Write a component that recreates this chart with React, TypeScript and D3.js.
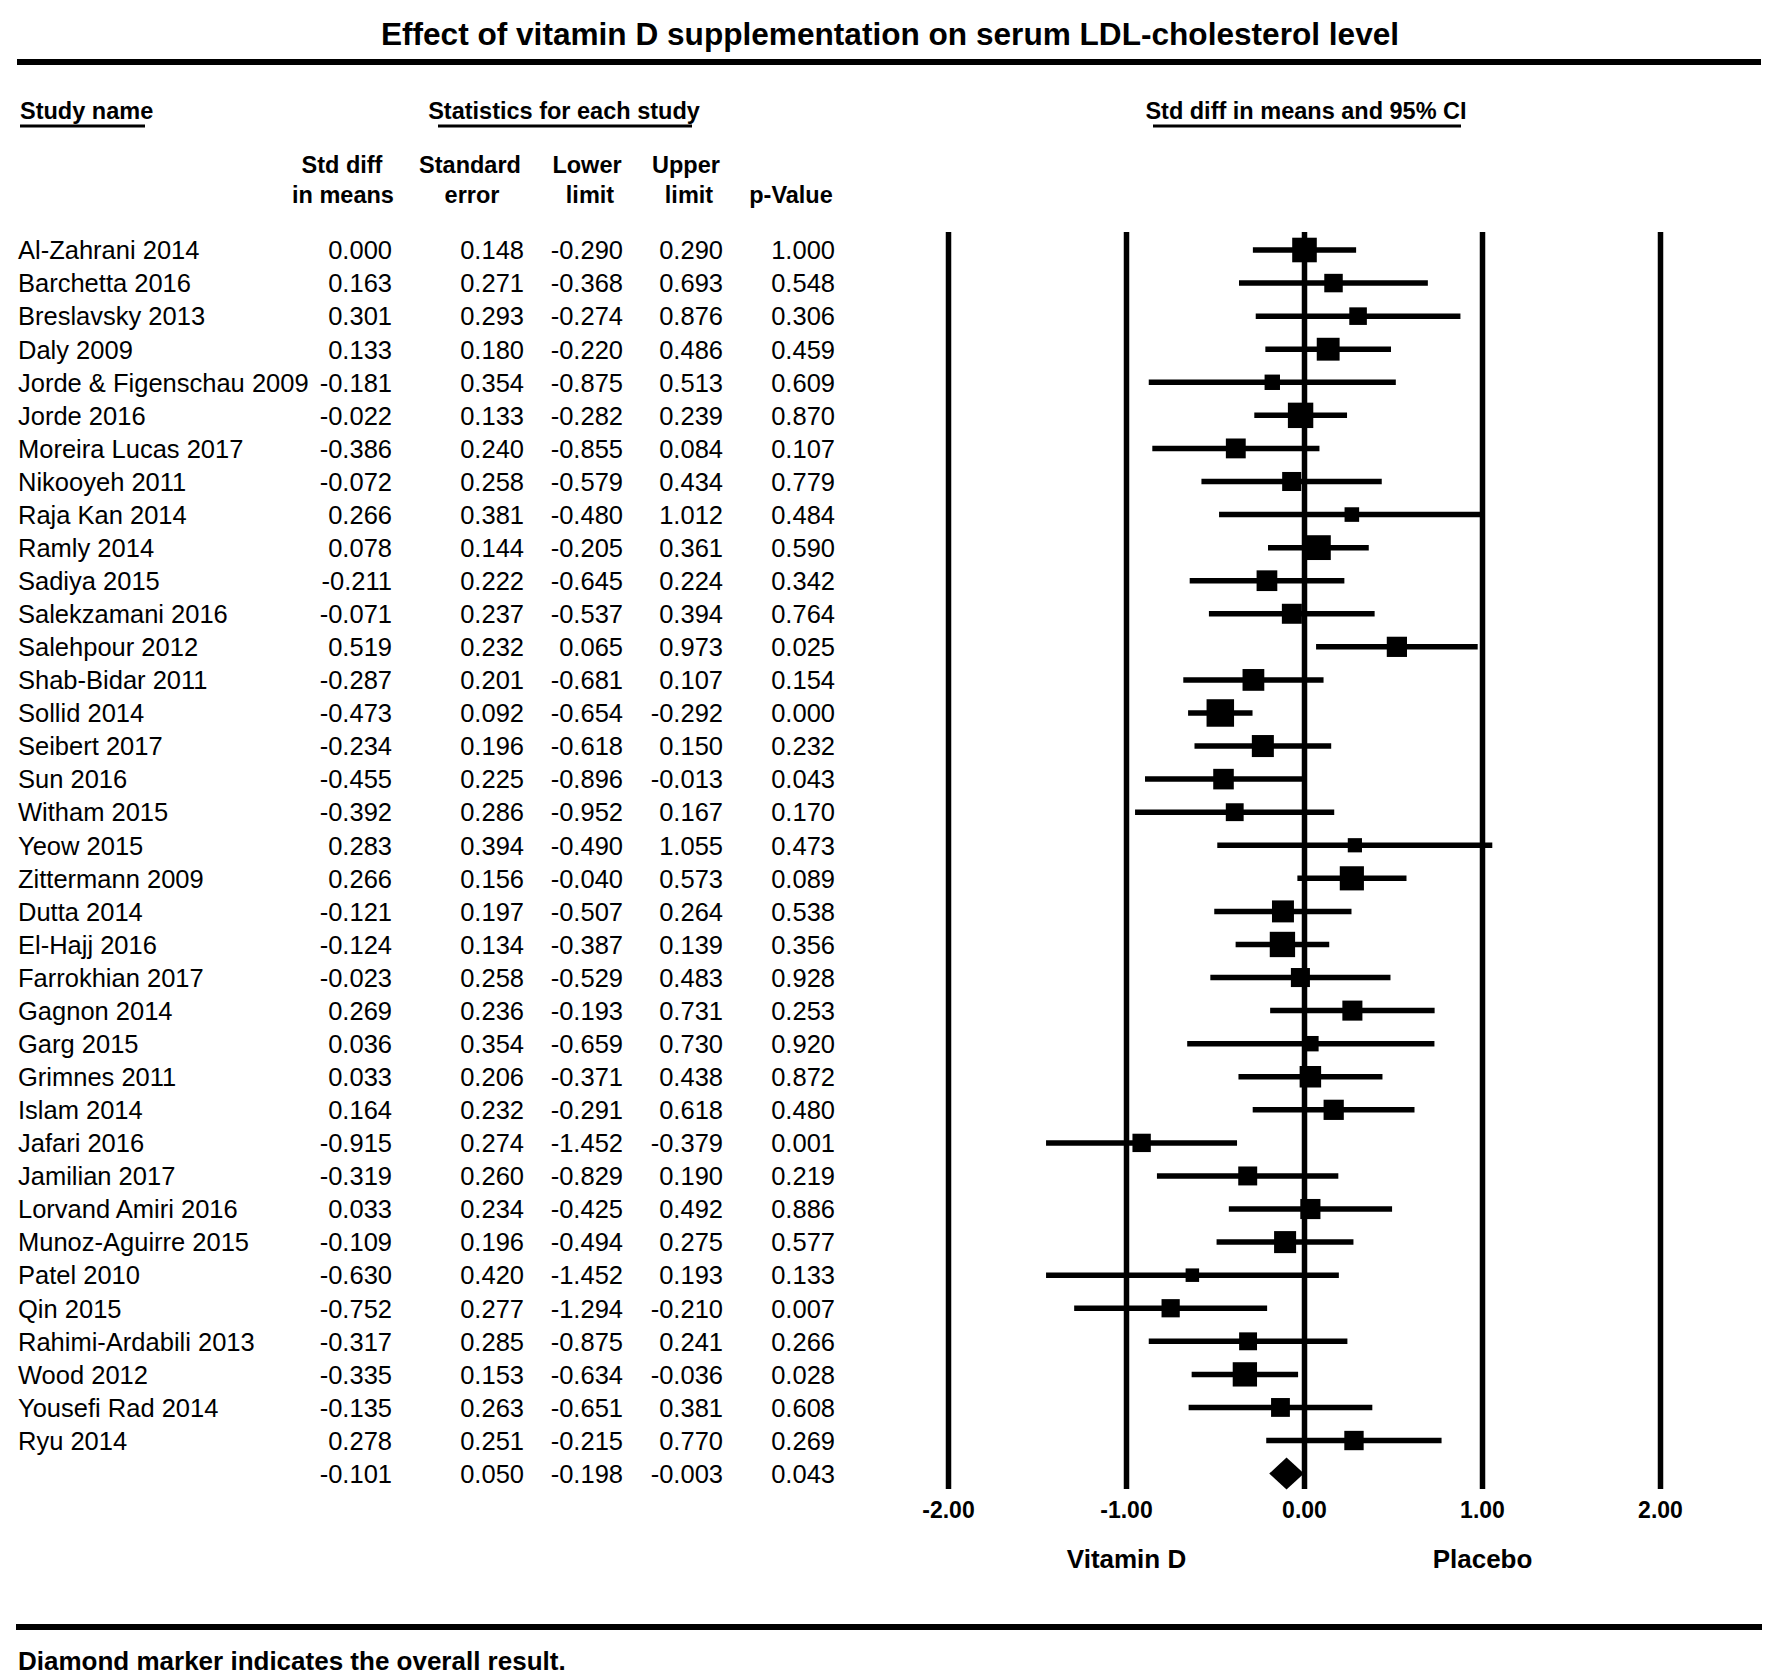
import React from 'react';
import * as d3 from 'd3';

// study rows, top to bottom
const studies = [
  'Al-Zahrani 2014', 'Barchetta 2016', 'Breslavsky 2013', 'Daly 2009', 'Jorde & Figenschau 2009',
  'Jorde 2016', 'Moreira Lucas 2017', 'Nikooyeh 2011', 'Raja Kan 2014', 'Ramly 2014',
  'Sadiya 2015', 'Salekzamani 2016', 'Salehpour 2012', 'Shab-Bidar 2011', 'Sollid 2014',
  'Seibert 2017', 'Sun 2016', 'Witham 2015', 'Yeow 2015', 'Zittermann 2009',
  'Dutta 2014', 'El-Hajj 2016', 'Farrokhian 2017', 'Gagnon 2014', 'Garg 2015',
  'Grimnes 2011', 'Islam 2014', 'Jafari 2016', 'Jamilian 2017', 'Lorvand Amiri 2016',
  'Munoz-Aguirre 2015', 'Patel 2010', 'Qin 2015', 'Rahimi-Ardabili 2013', 'Wood 2012',
  'Yousefi Rad 2014', 'Ryu 2014',
];

const stdDiff = [0.000, 0.163, 0.301, 0.133, -0.181, -0.022, -0.386, -0.072, 0.266, 0.078, -0.211, -0.071, 0.519, -0.287, -0.473, -0.234, -0.455, -0.392, 0.283, 0.266, -0.121, -0.124, -0.023, 0.269, 0.036, 0.033, 0.164, -0.915, -0.319, 0.033, -0.109, -0.630, -0.752, -0.317, -0.335, -0.135, 0.278];
const stdErr = [0.148, 0.271, 0.293, 0.180, 0.354, 0.133, 0.240, 0.258, 0.381, 0.144, 0.222, 0.237, 0.232, 0.201, 0.092, 0.196, 0.225, 0.286, 0.394, 0.156, 0.197, 0.134, 0.258, 0.236, 0.354, 0.206, 0.232, 0.274, 0.260, 0.234, 0.196, 0.420, 0.277, 0.285, 0.153, 0.263, 0.251];
const lowerLimit = [-0.290, -0.368, -0.274, -0.220, -0.875, -0.282, -0.855, -0.579, -0.480, -0.205, -0.645, -0.537, 0.065, -0.681, -0.654, -0.618, -0.896, -0.952, -0.490, -0.040, -0.507, -0.387, -0.529, -0.193, -0.659, -0.371, -0.291, -1.452, -0.829, -0.425, -0.494, -1.452, -1.294, -0.875, -0.634, -0.651, -0.215];
const upperLimit = [0.290, 0.693, 0.876, 0.486, 0.513, 0.239, 0.084, 0.434, 1.012, 0.361, 0.224, 0.394, 0.973, 0.107, -0.292, 0.150, -0.013, 0.167, 1.055, 0.573, 0.264, 0.139, 0.483, 0.731, 0.730, 0.438, 0.618, -0.379, 0.190, 0.492, 0.275, 0.193, -0.210, 0.241, -0.036, 0.381, 0.770];
const pValue = [1.000, 0.548, 0.306, 0.459, 0.609, 0.870, 0.107, 0.779, 0.484, 0.590, 0.342, 0.764, 0.025, 0.154, 0.000, 0.232, 0.043, 0.170, 0.473, 0.089, 0.538, 0.356, 0.928, 0.253, 0.920, 0.872, 0.480, 0.001, 0.219, 0.886, 0.577, 0.133, 0.007, 0.266, 0.028, 0.608, 0.269];

// overall (random effects) result
const overall = { est: -0.101, se: 0.050, lower: -0.198, upper: -0.003, p: 0.043 };

// between-study variance guess, used only for marker weights
const tau2 = 0.045;

const xTicks = [-2, -1, 0, 1, 2];

const FONT = '"Liberation Sans", Arial, Helvetica, sans-serif';

export default function App() {
  const W = 1772;
  const H = 1680;

  // x scale for the forest plot
  const x = d3.scaleLinear().domain([-2, 2]).range([948.5, 1660.5]);

  // row index -> y center (last index is the overall row)
  const y = d3.scaleLinear().domain([0, studies.length]).range([250, 250 + 33.07 * studies.length]);

  const weights = stdErr.map(se => 1 / (se * se + tau2));
  const size = d3.scaleSqrt().domain([0, d3.max(weights)]).range([0, 27.5]);

  const f3 = (v: number) => v.toFixed(3);

  // right edges of the numeric columns
  const cols = [
    { x: 392, vals: stdDiff, o: overall.est },
    { x: 524, vals: stdErr, o: overall.se },
    { x: 623, vals: lowerLimit, o: overall.lower },
    { x: 723, vals: upperLimit, o: overall.upper },
    { x: 835, vals: pValue, o: overall.p },
  ];

  const gridTop = 232;
  const gridBottom = 1489;
  const lw = 5.5;

  const oy = y(studies.length);
  const diamond = [
    [x(overall.lower), oy],
    [x(overall.est), oy - 16],
    [x(overall.upper), oy],
    [x(overall.est), oy + 16],
  ];

  return (
    <svg width={W} height={H} style={{ position: 'absolute', left: 0, top: 0, background: '#fff' }} fontFamily={FONT}>
      <rect width={W} height={H} fill="#fff" />

      {/* title */}
      <text x={890} y={45} textAnchor="middle" fontSize={31.6} fontWeight="bold">
        Effect of vitamin D supplementation on serum LDL-cholesterol level
      </text>
      <line x1={17} x2={1761} y1={62} y2={62} stroke="#000" strokeWidth={6} />

      {/* section headers */}
      <g fontSize={23.5} fontWeight="bold">
        <text x={20} y={119}>Study name</text>
        <line x1={20} x2={145} y1={126} y2={126} stroke="#000" strokeWidth={3} />
        <text x={564} y={119} textAnchor="middle">Statistics for each study</text>
        <line x1={438} x2={692} y1={126} y2={126} stroke="#000" strokeWidth={3} />
        <text x={1306} y={119} textAnchor="middle">Std diff in means and 95% CI</text>
        <line x1={1153} x2={1461} y1={126} y2={126} stroke="#000" strokeWidth={3} />

        <text x={342} y={173} textAnchor="middle">Std diff</text>
        <text x={343} y={203} textAnchor="middle">in means</text>
        <text x={470} y={173} textAnchor="middle">Standard</text>
        <text x={472} y={203} textAnchor="middle">error</text>
        <text x={587} y={173} textAnchor="middle">Lower</text>
        <text x={590} y={203} textAnchor="middle">limit</text>
        <text x={686} y={173} textAnchor="middle">Upper</text>
        <text x={689} y={203} textAnchor="middle">limit</text>
        <text x={791} y={203} textAnchor="middle">p-Value</text>
      </g>

      {/* table */}
      <g fontSize={25.5}>
        {studies.map((s, i) => (
          <text key={s} x={18} y={y(i) + 9.3}>{s}</text>
        ))}
        {cols.map((c, j) => (
          <g key={j} textAnchor="end">
            {c.vals.map((v, i) => (
              <text key={i} x={c.x} y={y(i) + 9.3}>{f3(v)}</text>
            ))}
            <text x={c.x} y={oy + 9.3}>{f3(c.o)}</text>
          </g>
        ))}
      </g>

      {/* vertical reference lines */}
      {xTicks.map(t => (
        <line key={t} x1={x(t)} x2={x(t)} y1={gridTop} y2={gridBottom} stroke="#000" strokeWidth={lw} />
      ))}

      {/* CI lines + weight squares */}
      {studies.map((s, i) => {
        const cy = y(i);
        const sz = size(weights[i]);
        return (
          <g key={s}>
            <line x1={x(lowerLimit[i])} x2={x(upperLimit[i])} y1={cy} y2={cy} stroke="#000" strokeWidth={lw} />
            <rect x={x(stdDiff[i]) - sz / 2} y={cy - sz / 2} width={sz} height={sz} fill="#000" />
          </g>
        );
      })}

      {/* overall diamond */}
      <polygon points={diamond.map(p => p.join(',')).join(' ')} fill="#000" />

      {/* axis labels */}
      <g fontSize={23} fontWeight="bold" textAnchor="middle">
        {xTicks.map(t => (
          <text key={t} x={x(t)} y={1518}>{t.toFixed(2)}</text>
        ))}
      </g>
      <g fontSize={26} fontWeight="bold" textAnchor="middle">
        <text x={x(-1)} y={1568}>Vitamin D</text>
        <text x={x(1)} y={1568}>Placebo</text>
      </g>

      <line x1={16} x2={1762} y1={1627} y2={1627} stroke="#000" strokeWidth={6} />
      <text x={18} y={1670} fontSize={26} fontWeight="bold">Diamond marker indicates the overall result.</text>
    </svg>
  );
}
